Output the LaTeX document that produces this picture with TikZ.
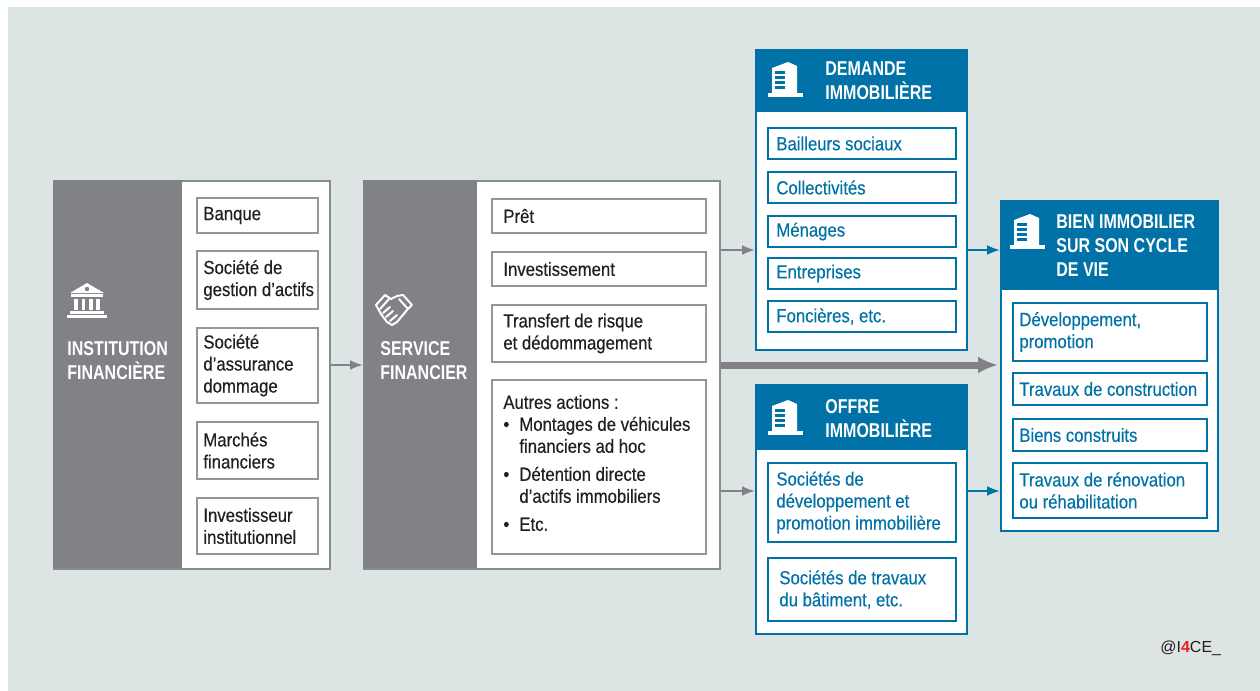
\documentclass[tikz,border=0pt]{standalone}
\usepackage{fontspec}
\setmainfont{Liberation Sans}[FakeStretch=0.88, FakeBold=0.35]
\newfontfamily\headfont{Liberation Sans}[FakeStretch=0.8]
\newfontfamily\logofont{Liberation Sans}
\usetikzlibrary{arrows.meta}

\definecolor{bgcol}{RGB}{220,229,227}
\definecolor{panelgray}{RGB}{128,130,133}
\definecolor{linegray}{RGB}{138,139,141}
\definecolor{boxgray}{RGB}{147,149,152}
\definecolor{ibleu}{RGB}{0,114,167}
\definecolor{textdark}{RGB}{35,31,32}
\definecolor{logored}{RGB}{237,28,36}

\tikzset{
  bank/.pic={
    \fill[white] (-17,-7) -- (0,-17) -- (17,-7) -- cycle;
    \fill[panelgray] (0,-11) circle (2.2);
    \fill[white] (-16,-6) rectangle (16,-3);
    \foreach \cx in {-11,-3.7,3.7,11}
      \fill[white] (\cx-1.8,-1.5) rectangle (\cx+1.8,10);
    \fill[white] (-17,11) rectangle (17,14);
    \fill[white] (-20,15) rectangle (20,18);
  },
  building/.pic={
    \fill[white] (-17,13) rectangle (18,17);
    \fill[white] (-13,13) -- (-13,-12) -- (3,-18) -- (12,-14) -- (12,13) -- cycle;
    \foreach \sy in {-9,-4,1,6}
      \fill[ibleu] (-10,\sy) rectangle (0,\sy+2.5);
  },
  handshake/.pic={
    \draw[white, line width=1pt, line join=round]
      (-18,-5) -- (-9,-15) -- (-3,-11) -- (3,-14) -- (9,-15) -- (18,-5)
      -- (13,0) -- (3,12) -- (-2,15) -- (-7,12) -- (-13,4) -- cycle;
    \draw[white, line width=1pt, line cap=round]
      (-14,-1) -- (-5,-11) (14,-1) -- (5,-11)
      (-11,3) -- (-4,-3) (-8,7) -- (-1,1) (-4,11) -- (3,5);
  }
}

\begin{document}
\begin{tikzpicture}[x=0.5pt, y=-0.5pt,
  every node/.style={font=\fontsize{9.5}{11}\selectfont, text=textdark},
  panel/.style={draw=linegray, line width=1pt, fill=white, anchor=north west, inner sep=0pt},
  side/.style={fill=panelgray, anchor=north west, inner sep=0pt},
  bpanel/.style={draw=ibleu, line width=1pt, fill=white, anchor=north west, inner sep=0pt},
  bhead/.style={fill=ibleu, anchor=north west, inner sep=0pt},
  gbox/.style={draw=boxgray, line width=1pt, fill=white, anchor=north west, inner sep=0pt},
  bbox/.style={draw=ibleu, line width=1pt, fill=white, anchor=north west, inner sep=0pt},
  gtext/.style={anchor=west, align=left, inner xsep=#1, inner ysep=0pt},
  gtext/.default=3.5pt,
  btext/.style={gtext=#1, text=ibleu},
  btext/.default=4.5pt,
  headtext/.style={anchor=west, align=left, inner sep=0pt, text=white,
    font=\headfont\bfseries\fontsize{10}{12}\selectfont},
  garrow/.style={draw=panelgray, line width=1pt, -{Latex[length=6.5pt, width=5pt]}},
  barrow/.style={draw=ibleu, line width=1pt, -{Latex[length=6.5pt, width=5pt]}},
  bigarrow/.style={draw=panelgray, line width=3.5pt, -{Latex[length=10pt, width=8.5pt]}}
]
  \useasboundingbox (0,0) rectangle (1260,691);
  \fill[bgcol] (8,7) rectangle (1260,691);

  % institution financiere
  \node[panel, minimum width=138pt, minimum height=194pt] (inst) at (53,180) {};
  \node[side, minimum width=64.5pt, minimum height=194pt] (instside) at (53,180) {};
  \pic at (87,300) {bank};
  \node[headtext] (insttitle) at (67,361) {INSTITUTION\\FINANCIÈRE};
  \node[gbox, minimum width=60.5pt, minimum height=17.5pt, label={[gtext]west:Banque}] (banque) at (196,197) {};
  \node[gbox, minimum width=60.5pt, minimum height=29pt, label={[gtext]west:Société de\\gestion d’actifs}] (gestion) at (196,250) {};
  \node[gbox, minimum width=60.5pt, minimum height=37.5pt, label={[gtext]west:Société\\d’assurance\\dommage}] (assurance) at (196,327) {};
  \node[gbox, minimum width=60.5pt, minimum height=28.5pt, label={[gtext]west:Marchés\\financiers}] (marches) at (196,421) {};
  \node[gbox, minimum width=60.5pt, minimum height=28pt, label={[gtext]west:Investisseur\\institutionnel}] (investisseur) at (196,497) {};

  % service financier
  \node[panel, minimum width=178pt, minimum height=194pt] (serv) at (363,180) {};
  \node[side, minimum width=57pt, minimum height=194pt] (servside) at (363,180) {};
  \pic at (394,310) {handshake};
  \node[headtext] (servtitle) at (380,361) {SERVICE\\FINANCIER};
  \node[gbox, minimum width=107pt, minimum height=17pt, label={[gtext=6pt]west:Prêt}] (pret) at (491,198) {};
  \node[gbox, minimum width=107pt, minimum height=17pt, label={[gtext=6pt]west:Investissement}] (investissement) at (491,251) {};
  \node[gbox, minimum width=107pt, minimum height=28.5pt, label={[gtext=6pt]west:Transfert de risque\\et dédommagement}] (transfert) at (491,304) {};
  \node[gbox, minimum width=107pt, minimum height=87pt, label={[gtext=6pt, yshift=2pt]west:{Autres actions :\\
    \makebox[8pt][l]{\textbullet}Montages de véhicules\\\hspace*{8pt}financiers ad hoc\\[3pt]
    \makebox[8pt][l]{\textbullet}Détention directe\\\hspace*{8pt}d’actifs immobiliers\\[3pt]
    \makebox[8pt][l]{\textbullet}Etc.}}] (autres) at (491,379) {};

  % demande immobiliere
  \node[bpanel, minimum width=105.5pt, minimum height=150pt] (dem) at (755,49) {};
  \node[bhead, minimum width=106pt, minimum height=31.5pt] (demhead) at (755,49) {};
  \pic at (785,80) {building};
  \node[headtext] (demtitle) at (825,81) {DEMANDE\\IMMOBILIÈRE};
  \node[bbox, minimum width=94pt, minimum height=15.5pt, label={[btext]west:Bailleurs sociaux}] (bailleurs) at (767,127) {};
  \node[bbox, minimum width=94pt, minimum height=15.5pt, label={[btext]west:Collectivités}] (collectivites) at (767,171) {};
  \node[bbox, minimum width=94pt, minimum height=15.5pt, label={[btext]west:Ménages}] (menages) at (767,215) {};
  \node[bbox, minimum width=94pt, minimum height=15.5pt, label={[btext]west:Entreprises}] (entreprises) at (767,257) {};
  \node[bbox, minimum width=94pt, minimum height=15.5pt, label={[btext]west:{Foncières, etc.}}] (foncieres) at (767,300) {};

  % offre immobiliere
  \node[bpanel, minimum width=105.5pt, minimum height=124.5pt] (off) at (755,384) {};
  \node[bhead, minimum width=106pt, minimum height=33pt] (offhead) at (755,384) {};
  \pic at (785,418) {building};
  \node[headtext] (offtitle) at (825,419) {OFFRE\\IMMOBILIÈRE};
  \node[bbox, minimum width=94pt, minimum height=39.5pt, label={[btext]west:Sociétés de\\développement et\\promotion immobilière}] (promoteurs) at (767,462) {};
  \node[bbox, minimum width=94pt, minimum height=31.5pt, label={[btext=6pt]west:{Sociétés de travaux\\du bâtiment, etc.}}] (travaux) at (767,557) {};

  % bien immobilier
  \node[bpanel, minimum width=108.5pt, minimum height=165pt] (bien) at (1000,200) {};
  \node[bhead, minimum width=109pt, minimum height=45pt] (bienhead) at (1000,200) {};
  \pic at (1027,232) {building};
  \node[headtext] (bientitle) at (1056,246) {BIEN IMMOBILIER\\SUR SON CYCLE\\DE VIE};
  \node[bbox, minimum width=97pt, minimum height=29pt, label={[btext=3.5pt]west:{Développement,\\promotion}}] (developpement) at (1012,302) {};
  \node[bbox, minimum width=97pt, minimum height=16pt, label={[btext=3.5pt]west:Travaux de construction}] (construction) at (1012,372) {};
  \node[bbox, minimum width=97pt, minimum height=16pt, label={[btext=3.5pt]west:Biens construits}] (construits) at (1012,418) {};
  \node[bbox, minimum width=97pt, minimum height=27.5pt, label={[btext=3.5pt]west:Travaux de rénovation\\ou réhabilitation}] (renovation) at (1012,462) {};

  \node[anchor=west, inner sep=0pt, text=textdark, font=\logofont\fontsize{8}{9}\selectfont] (credit) at (1160,648) {@I{\color{logored}\bfseries 4}CE\_};

  % flux
  \coordinate (upline) at (0,250);
  \coordinate (midline) at (0,365);
  \coordinate (lowline) at (0,491);
  \begin{scope}
    \draw[garrow] (inst.east |- midline) to (serv.west |- midline);
    \draw[garrow] (serv.east |- upline) to (dem.west |- upline);
    \draw[garrow] (serv.east |- lowline) to (off.west |- lowline);
    \draw[bigarrow] (serv.east |- midline) to ([xshift=-1pt]bien.west |- midline);
    \draw[barrow] (dem.east |- upline) to (bien.west |- upline);
    \draw[barrow] (off.east |- lowline) to (bien.west |- lowline);
  \end{scope}
\end{tikzpicture}
\end{document}
